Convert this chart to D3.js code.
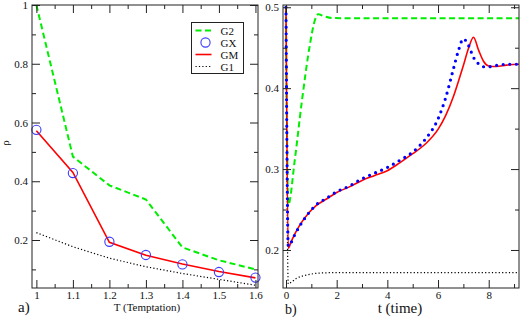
<!DOCTYPE html>
<html>
<head>
<meta charset="utf-8">
<script src="https://cdn.jsdelivr.net/npm/d3@7"></script>
<style>
  body { margin: 0; background: #fff; }
  svg { display: block; }
  svg text { font-family: "Liberation Serif", "Times New Roman", "DejaVu Serif", serif; }
</style>
</head>
<body>
<svg id="fig" width="521" height="319"></svg>
<script>
// ---- panel a) : rho vs temptation ----
const temptation = [1.0, 1.1, 1.2, 1.3, 1.4, 1.5, 1.6];
const rhoG2 = [1.0, 0.484, 0.386, 0.338, 0.175, 0.131, 0.100];
const rhoGX = [0.575, 0.428, 0.194, 0.149, 0.117, 0.091, 0.072];
const rhoGM = [0.572, 0.430, 0.192, 0.148, 0.118, 0.093, 0.071];
const rhoG1 = [0.225, 0.177, 0.138, 0.109, 0.086, 0.066, 0.046];

// ---- panel b) : rho vs time ----
const time = [0, 0.09, 0.2, 0.35, 0.55, 0.88, 1.2, 1.6, 2.0, 2.5, 3.0, 3.5, 4.0, 4.5, 5.0,
              5.5, 6.0, 6.3, 6.6, 6.8, 7.0, 7.2, 7.4, 7.6, 7.8, 8.0, 8.3, 8.7, 9.2];
const timeGM = [0.5, 0.202, 0.210, 0.220, 0.231, 0.245, 0.255, 0.263, 0.271, 0.278, 0.286, 0.292, 0.298, 0.308, 0.319,
                0.331, 0.349, 0.366, 0.389, 0.408, 0.428, 0.449, 0.463, 0.447, 0.433, 0.4275, 0.4268, 0.4285, 0.4296];
const timeGX = [0.5, 0.205, 0.209, 0.219, 0.230, 0.245, 0.256, 0.264, 0.272, 0.279, 0.288, 0.295, 0.302, 0.311, 0.321,
                0.337, 0.362, 0.388, 0.423, 0.446, 0.461, 0.453, 0.438, 0.430, 0.4265, 0.4265, 0.428, 0.4295, 0.4296];
const timeG2t = [0, 0.09, 0.35, 0.62, 0.95, 1.14, 1.27, 1.5, 1.8, 2.2, 9.2];
const timeG2 = [0.5, 0.256, 0.312, 0.382, 0.455, 0.484, 0.4914, 0.489, 0.4868, 0.4865, 0.4865];
const timeG1t = [0, 0.09, 0.2, 0.42, 0.82, 1.34, 2.0, 9.2];
const timeG1 = [0.5, 0.158, 0.160, 0.165, 0.169, 0.1715, 0.172, 0.172];

// ticks
const xMajA = [1, 1.1, 1.2, 1.3, 1.4, 1.5, 1.6];
const xMinA = [1.05, 1.15, 1.25, 1.35, 1.45, 1.55];
const yMajA = [0.2, 0.4, 0.6, 0.8, 1];
const yMinA = [0.1, 0.3, 0.5, 0.7, 0.9];
const xMajB = [0, 2, 4, 6, 8];
const xMinB = [1, 3, 5, 7, 9];
const yMajB = [0.2, 0.3, 0.4, 0.5];
const yMinB = [0.25, 0.35, 0.45];

const legendNames = ["G2", "GX", "GM", "G1"];

const svg = d3.select("#fig");
const green = "#00ee00", red = "#ff0000", blue = "#0000ff", circBlue = "#3b3bff";

function frame(g, x, y, w, h, xMaj, xMin, yMaj, yMin, xFmt, yFmt) {
  const big = -8, small = -4;
  g.append("g").attr("transform", `translate(0,${h})`)
    .call(d3.axisBottom(x).tickValues(xMaj).tickSizeInner(big).tickSizeOuter(0).tickPadding(3).tickFormat(xFmt));
  g.append("g").attr("transform", `translate(0,${h})`)
    .call(d3.axisBottom(x).tickValues(xMin).tickSizeInner(small).tickSizeOuter(0).tickFormat(""));
  g.append("g")
    .call(d3.axisTop(x).tickValues(xMaj).tickSizeInner(big).tickSizeOuter(0).tickFormat(""));
  g.append("g")
    .call(d3.axisTop(x).tickValues(xMin).tickSizeInner(small).tickSizeOuter(0).tickFormat(""));
  g.append("g")
    .call(d3.axisLeft(y).tickValues(yMaj).tickSizeInner(big).tickSizeOuter(0).tickPadding(4).tickFormat(yFmt));
  g.append("g")
    .call(d3.axisLeft(y).tickValues(yMin).tickSizeInner(small).tickSizeOuter(0).tickFormat(""));
  g.append("g").attr("transform", `translate(${w},0)`)
    .call(d3.axisRight(y).tickValues(yMaj).tickSizeInner(big).tickSizeOuter(0).tickFormat(""));
  g.append("g").attr("transform", `translate(${w},0)`)
    .call(d3.axisRight(y).tickValues(yMin).tickSizeInner(small).tickSizeOuter(0).tickFormat(""));
  g.selectAll(".domain").remove();
  g.selectAll("g").attr("font-family", null);
  g.selectAll(".tick line").attr("stroke", "#222");
  g.selectAll(".tick text").attr("font-size", 11).attr("fill", "#111");
  g.append("rect").attr("width", w).attr("height", h)
    .attr("fill", "none").attr("stroke", "#222").attr("stroke-width", 1);
}

// ===== panel a =====
const aL = 32, aT = 5, aW = 226, aH = 283;
const ga = svg.append("g").attr("transform", `translate(${aL},${aT})`);
const xa = d3.scaleLinear().domain([0.988, 1.607]).range([0, aW]);
const ya = d3.scaleLinear().domain([0.0366, 1.0]).range([aH, 0]);

const lineA = d3.line().x((d, i) => xa(temptation[i])).y(d => ya(d));

ga.append("path").attr("d", lineA(rhoG2)).attr("fill", "none")
  .attr("stroke", green).attr("stroke-width", 2).attr("stroke-dasharray", "6,3.5");
ga.append("path").attr("d", lineA(rhoG1)).attr("fill", "none")
  .attr("stroke", "#000").attr("stroke-width", 1.2).attr("stroke-dasharray", "1.2,2.2");
ga.append("path").attr("d", lineA(rhoGM)).attr("fill", "none")
  .attr("stroke", red).attr("stroke-width", 1.6);
ga.selectAll("circle.gx").data(rhoGX).enter().append("circle")
  .attr("class", "gx")
  .attr("cx", (d, i) => xa(temptation[i])).attr("cy", d => ya(d)).attr("r", 4.6)
  .attr("fill", "none").attr("stroke", circBlue).attr("stroke-width", 1.1);

frame(ga, xa, ya, aW, aH, xMajA, xMinA, yMajA, yMinA, d => String(d), d => String(d));

// legend
const lg = ga.append("g").attr("transform", `translate(${191.5 - aL},${22.5 - aT})`);
lg.append("rect").attr("width", 52).attr("height", 51)
  .attr("fill", "#fff").attr("stroke", "#222").attr("stroke-width", 1);
legendNames.forEach((name, i) => {
  const yy = 8 + i * 12;
  const item = lg.append("g");
  if (name === "G2") {
    item.append("line").attr("x1", 4).attr("x2", 20).attr("y1", yy).attr("y2", yy)
      .attr("stroke", green).attr("stroke-width", 2).attr("stroke-dasharray", "6,3.5");
  } else if (name === "GX") {
    item.append("circle").attr("cx", 14).attr("cy", yy).attr("r", 4.6)
      .attr("fill", "none").attr("stroke", circBlue).attr("stroke-width", 1.1);
  } else if (name === "GM") {
    item.append("line").attr("x1", 4).attr("x2", 20).attr("y1", yy).attr("y2", yy)
      .attr("stroke", red).attr("stroke-width", 1.6);
  } else {
    item.append("line").attr("x1", 4).attr("x2", 20).attr("y1", yy).attr("y2", yy)
      .attr("stroke", "#000").attr("stroke-width", 1.2).attr("stroke-dasharray", "1.2,2.2");
  }
  item.append("text").attr("x", 29).attr("y", yy + 4).attr("font-size", 11).attr("fill", "#111").text(name);
});

// labels a
svg.append("text").attr("transform", "translate(9,143) rotate(-90)")
  .attr("text-anchor", "middle").attr("font-size", 11).attr("fill", "#111").text("ρ");
svg.append("text").attr("x", 147).attr("y", 311).attr("text-anchor", "middle")
  .attr("font-size", 11).attr("fill", "#111").text("T (Temptation)");
svg.append("text").attr("x", 18).attr("y", 312).attr("font-size", 15).attr("fill", "#111").text("a)");

// ===== panel b =====
const bL = 283, bT = 5, bW = 236, bH = 283;
const gb = svg.append("g").attr("transform", `translate(${bL},${bT})`);
const xb = d3.scaleLinear().domain([-0.118, 9.195]).range([0, bW]);
const yb = d3.scaleLinear().domain([0.153, 0.5028]).range([bH, 0]);

gb.append("clipPath").attr("id", "clipB").append("rect").attr("width", bW).attr("height", bH);
const plotB = gb.append("g").attr("clip-path", "url(#clipB)");

const lineB = tArr => d3.line().curve(d3.curveMonotoneX).x((d, i) => xb(tArr[i])).y(d => yb(d));

plotB.append("path").attr("d", lineB(timeG2t)(timeG2)).attr("fill", "none")
  .attr("stroke", green).attr("stroke-width", 2).attr("stroke-dasharray", "6,3.5");
plotB.append("path").attr("d", lineB(timeG1t)(timeG1)).attr("fill", "none")
  .attr("stroke", "#000").attr("stroke-width", 1.2).attr("stroke-dasharray", "1.2,2.2");
plotB.append("path").attr("d", lineB(time)(timeGM)).attr("fill", "none")
  .attr("stroke", red).attr("stroke-width", 1.6);
plotB.append("path").attr("d", lineB(time)(timeGX)).attr("fill", "none")
  .attr("stroke", blue).attr("stroke-width", 3.2).attr("stroke-linecap", "round")
  .attr("stroke-dasharray", "0,6.6");

frame(gb, xb, yb, bW, bH, xMajB, xMinB, yMajB, yMinB, d => String(d), d => d3.format(".1f")(d));

svg.append("text").attr("x", 400).attr("y", 313).attr("text-anchor", "middle")
  .attr("font-size", 15).attr("fill", "#111").text("t (time)");
svg.append("text").attr("x", 285).attr("y", 314).attr("font-size", 14).attr("fill", "#111").text("b)");
</script>
</body>
</html>
